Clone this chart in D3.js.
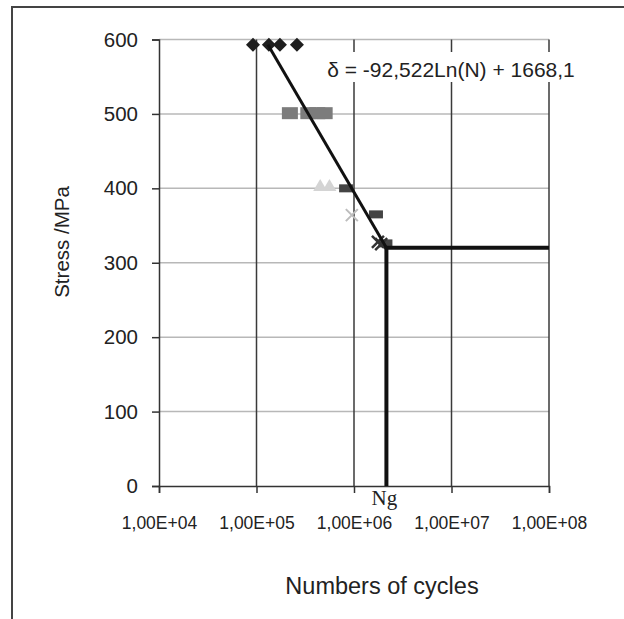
<!DOCTYPE html>
<html>
<head>
<meta charset="utf-8">
<script src="https://cdn.jsdelivr.net/npm/d3@7"></script>
<style>
  body { margin: 0; background: #fff; }
  svg { display: block; font-family: "Liberation Sans", Arial, sans-serif; }
</style>
</head>
<body>
<div id="chart"></div>
<script>
// Data (cycles N, stress MPa)
var diamondN = [9.2e4, 1.34e5, 1.74e5, 2.6e5];
var diamondS = [593, 593, 593, 593];
var greyDashN = [2.2e5, 3.4e5, 4.2e5, 5.0e5];
var greyDashS = [501, 501, 501, 501];
var triangleN = [4.5e5, 5.6e5];
var triangleS = [403, 403];
var darkDashN = [8.3e5, 1.68e6, 2.1e6];
var darkDashS = [400, 365, 326];
var lightCrossN = [9.5e5];
var lightCrossS = [364];
var darkCrossN = [1.76e6, 1.9e6];
var darkCrossS = [328, 325];

// trend line ends and endurance limit
var trendN = [1.31e5, 2.15e6];
var trendS = [593, 320];
var Ng = 2.15e6;
var fatigueLimit = 320;
var Nmax = 1e8;

var xTicks = [1e4, 1e5, 1e6, 1e7, 1e8];
var xTickLabels = ["1,00E+04", "1,00E+05", "1,00E+06", "1,00E+07", "1,00E+08"];
var yTicks = [0, 100, 200, 300, 400, 500, 600];

var width = 624, height = 619;

var svg = d3.select("#chart")
	.append("svg")
	.attr("width", width)
	.attr("height", height);

// outer frame (top and left edge only)
svg.append("path")
	.attr("d", "M12,619 L12,7 L624,7")
	.attr("fill", "none")
	.attr("stroke", "#444")
	.attr("stroke-width", 2);

var x = d3.scaleLog()
	.domain([1e4, 1e8])
	.range([159, 549]);

var y = d3.scaleLinear()
	.domain([0, 600])
	.range([486, 39.5]);

// horizontal grid (light)
svg.append("g")
	.selectAll("line")
	.data(yTicks.filter(function(d) { return d > 0; }))
	.enter()
	.append("line")
		.attr("x1", x(1e4))
		.attr("x2", x(1e8))
		.attr("y1", function(d) { return y(d); })
		.attr("y2", function(d) { return y(d); })
		.attr("stroke", "#b8b8b8")
		.attr("stroke-width", 1.5);

// vertical grid (dark)
svg.append("g")
	.selectAll("line")
	.data(xTicks.slice(1))
	.enter()
	.append("line")
		.attr("x1", function(d) { return x(d); })
		.attr("x2", function(d) { return x(d); })
		.attr("y1", y(600))
		.attr("y2", y(0))
		.attr("stroke", "#3a3a3a")
		.attr("stroke-width", 1.5);

// y axis
var yAxis = svg.append("g")
	.attr("transform", "translate(" + x(1e4) + ",0)")
	.call(d3.axisLeft(y).tickValues(yTicks).tickSize(7).tickPadding(14));
yAxis.select(".domain").attr("stroke", "#333").attr("stroke-width", 1.5);
yAxis.selectAll(".tick line").attr("stroke", "#333").attr("stroke-width", 1.5);
yAxis.selectAll(".tick text")
	.style("font-size", "20.5px")
	.attr("fill", "#222");

// x axis
var xAxis = svg.append("g")
	.attr("transform", "translate(0," + y(0) + ")")
	.call(d3.axisBottom(x).tickValues(xTicks)
		.tickFormat(function(d, i) { return xTickLabels[i]; })
		.tickSize(7).tickPadding(24));
xAxis.select(".domain").attr("stroke", "#333").attr("stroke-width", 1.5);
xAxis.selectAll(".tick line").attr("stroke", "#333").attr("stroke-width", 1.5);
xAxis.selectAll(".tick text")
	.style("font-size", "17.5px")
	.attr("fill", "#222");

// markers
function pts(ns, ss) {
	return ns.map(function(n, i) { return {n: n, s: ss[i]}; });
}

svg.append("g")
	.selectAll("path")
	.data(pts(greyDashN, greyDashS))
	.enter()
	.append("rect")
		.attr("x", function(d) { return x(d.n) - 8; })
		.attr("y", function(d) { return y(d.s) - 6; })
		.attr("width", 16)
		.attr("height", 12)
		.attr("fill", "#7c7c7c");

svg.append("g")
	.selectAll("path")
	.data(pts(triangleN, triangleS))
	.enter()
	.append("path")
		.attr("d", function(d) {
			var cx = x(d.n), cy = y(d.s);
			return "M" + (cx - 7) + "," + (cy + 5) + "L" + cx + "," + (cy - 7) + "L" + (cx + 7) + "," + (cy + 5) + "Z";
		})
		.attr("fill", "#d4d4d4");

svg.append("g")
	.selectAll("path")
	.data(pts(lightCrossN, lightCrossS))
	.enter()
	.append("path")
		.attr("d", function(d) {
			var cx = x(d.n), cy = y(d.s);
			return "M" + (cx - 6) + "," + (cy - 6) + "L" + (cx + 6) + "," + (cy + 6) +
				"M" + (cx - 6) + "," + (cy + 6) + "L" + (cx + 6) + "," + (cy - 6);
		})
		.attr("stroke", "#bdbdbd")
		.attr("stroke-width", 2);

svg.append("g")
	.selectAll("rect")
	.data(pts(darkDashN, darkDashS))
	.enter()
	.append("rect")
		.attr("x", function(d) { return x(d.n) - 7; })
		.attr("y", function(d) { return y(d.s) - 4; })
		.attr("width", 14)
		.attr("height", 8)
		.attr("fill", "#444");

svg.append("g")
	.selectAll("path")
	.data(pts(darkCrossN, darkCrossS))
	.enter()
	.append("path")
		.attr("d", function(d) {
			var cx = x(d.n), cy = y(d.s);
			return "M" + (cx - 6) + "," + (cy - 6) + "L" + (cx + 6) + "," + (cy + 6) +
				"M" + (cx - 6) + "," + (cy + 6) + "L" + (cx + 6) + "," + (cy - 6);
		})
		.attr("stroke", "#333")
		.attr("stroke-width", 2.5);

svg.append("g")
	.selectAll("path")
	.data(pts(diamondN, diamondS))
	.enter()
	.append("path")
		.attr("d", function(d) {
			var cx = x(d.n), cy = y(d.s);
			return "M" + (cx - 7) + "," + cy + "L" + cx + "," + (cy - 7) + "L" + (cx + 7) + "," + cy + "L" + cx + "," + (cy + 7) + "Z";
		})
		.attr("fill", "#1e1e1e");

// trend line
var line = d3.line()
	.x(function(d) { return x(d.n); })
	.y(function(d) { return y(d.s); });

svg.append("path")
	.datum(pts(trendN, trendS))
	.attr("d", line)
	.attr("fill", "none")
	.attr("stroke", "#111")
	.attr("stroke-width", 3);

// endurance limit lines
svg.append("path")
	.datum([{n: Nmax, s: fatigueLimit}, {n: Ng, s: fatigueLimit}, {n: Ng, s: 0}])
	.attr("d", line)
	.attr("fill", "none")
	.attr("stroke", "#111")
	.attr("stroke-width", 4);

// Ng label
svg.append("text")
	.attr("x", x(Ng) - 2)
	.attr("y", 505)
	.attr("text-anchor", "middle")
	.style("font-family", "'Liberation Serif', 'Times New Roman', serif")
	.style("font-size", "21px")
	.attr("fill", "#222")
	.text("Ng");

// equation, on a white label box that hides the grid behind it
svg.append("rect")
	.attr("x", 318)
	.attr("y", 52)
	.attr("width", 266)
	.attr("height", 30)
	.attr("fill", "#fff");

svg.append("text")
	.attr("x", 451)
	.attr("y", 77)
	.attr("text-anchor", "middle")
	.style("font-size", "21px")
	.attr("fill", "#222")
	.text("δ = -92,522Ln(N) + 1668,1");

// axis titles
svg.append("text")
	.attr("transform", "translate(69,242) rotate(-90)")
	.attr("text-anchor", "middle")
	.style("font-size", "20.5px")
	.attr("fill", "#222")
	.text("Stress /MPa");

svg.append("text")
	.attr("x", 382)
	.attr("y", 594)
	.attr("text-anchor", "middle")
	.style("font-size", "23.5px")
	.attr("fill", "#222")
	.text("Numbers of cycles");
</script>
</body>
</html>
